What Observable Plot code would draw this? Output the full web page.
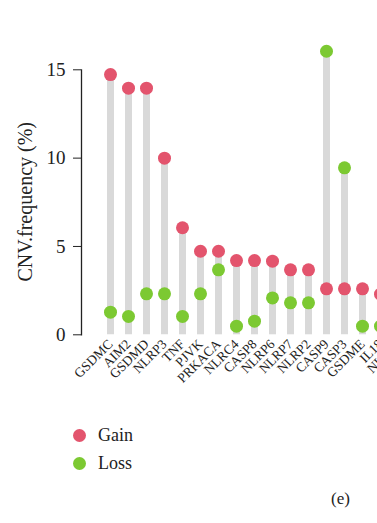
<!DOCTYPE html>
<html>
<head>
<meta charset="utf-8">
<script src="https://cdn.jsdelivr.net/npm/d3@7"></script>
<script src="https://cdn.jsdelivr.net/npm/@observablehq/plot@0.6"></script>
<style>
html, body { margin: 0; padding: 0; overflow: hidden; background: #fff; width: 377px; height: 523px; }
#wrap { position: relative; width: 377px; height: 523px; overflow: hidden; }
#chart { position: absolute; left: 0; top: 0; width: 430px; }
#chart svg { max-width: none !important; }
.legend { position: absolute; left: 73px; font-family: "Liberation Serif", "DejaVu Serif", serif; font-size: 18px; color: #222; }
.legend div { display: flex; align-items: center; height: 28px; }
.legend span.dot { display: inline-block; width: 13px; height: 13px; border-radius: 50%; margin-right: 12px; }
#panel { position: absolute; left: 331px; top: 489px; font-family: "Liberation Serif", "DejaVu Serif", serif; font-size: 17px; color: #222; }
</style>
</head>
<body>
<div id="wrap">
  <div id="chart"></div>
  <div class="legend" style="top:421px">
    <div><span class="dot" id="dg"></span><span id="lg"></span></div>
    <div><span class="dot" id="dl"></span><span id="ll"></span></div>
  </div>
  <div id="panel">(e)</div>
</div>
<script>
const genes = ["GSDMC","AIM2","GSDMD","NLRP3","TNF","PJVK","PRKACA","NLRC4","CASP8","NLRP6","NLRP7","NLRP2","CASP9","CASP3","GSDME","IL18","NLRP1"];
const gain  = [14.73,13.96,13.96,10.0,6.06,4.73,4.73,4.2,4.2,4.17,3.68,3.68,2.6,2.6,2.6,2.3,2.2];
const loss  = [1.28,1.04,2.32,2.32,1.04,2.32,3.68,0.49,0.77,2.09,1.81,1.81,16.05,9.45,0.49,0.49,0.45];
const seriesNames = ["Gain","Loss"];
const colors = ["#E3546D","#7CC932"];
const yTicks = [0,5,10,15];
const yLabel = "CNV.frequency (%)";

const rows = genes.map((g,i)=>({gene:g, gain:gain[i], loss:loss[i], top:Math.max(gain[i],loss[i])}));
const pts = [];
rows.forEach(r=>{ pts.push({gene:r.gene, series:"Loss", v:r.loss}); });
rows.forEach(r=>{ pts.push({gene:r.gene, series:"Gain", v:r.gain}); });

const step = 18.2, x0 = 108.5;
const plot = Plot.plot({
  width: 430,
  height: 400,
  marginLeft: 81,
  marginTop: 69.3,
  marginBottom: 65.7,
  marginRight: 0,
  style: {fontFamily: "'Liberation Serif', 'DejaVu Serif', serif", color: "#222", background: "transparent", maxWidth: "none"},
  x: {type: "point", domain: genes, range: [x0, x0 + step*(genes.length-1)], padding: 0, align: 0.5},
  y: {domain: [0,15]},
  color: {domain: seriesNames, range: colors},
  marks: [
    Plot.frame({anchor: "left", stroke: "#222", strokeWidth: 1.3}),
    Plot.axisY({ticks: yTicks, tickSize: 8, tickPadding: 8, fontSize: 19, label: null, stroke: "#222"}),
    Plot.axisX({tickSize: 0, tickPadding: 7, tickRotate: -45, fontSize: 13.5, label: null}),
    Plot.ruleX(rows, {x: "gene", y1: 0, y2: "top", stroke: "#d9d9d9", strokeWidth: 7}),
    Plot.dot(pts, {x: "gene", y: "v", fill: "series", r: 6.5})
  ]
});
document.getElementById("chart").appendChild(plot);

// y label
const svg = d3.select(plot);
svg.append("text")
  .attr("transform", `translate(27,${(69.3+334.3)/2}) rotate(-90)`)
  .attr("text-anchor","middle").attr("dominant-baseline","middle")
  .attr("font-size", 20).attr("fill","#222")
  .text(yLabel);

document.getElementById("dg").style.background = colors[0];
document.getElementById("dl").style.background = colors[1];
document.getElementById("lg").textContent = seriesNames[0];
document.getElementById("ll").textContent = seriesNames[1];
</script>
</body>
</html>
